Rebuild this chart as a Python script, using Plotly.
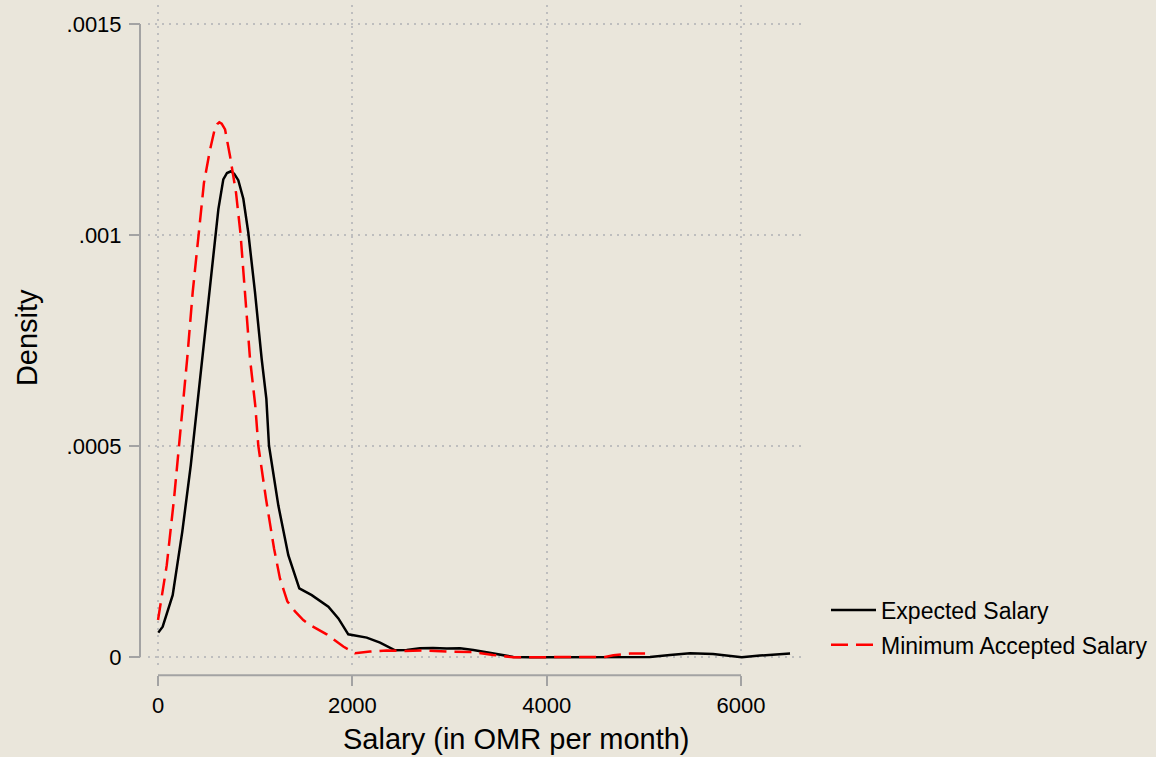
import plotly.graph_objects as go

# Kernel density estimates of monthly salary (OMR)
expected_x = [3, 48, 151, 250, 337, 412, 525, 587, 621, 672, 710, 751, 784, 826, 878,
              929, 998, 1067, 1115, 1142, 1238, 1341, 1454, 1582, 1667, 1753, 1856, 1958,
              2148, 2285, 2439, 2559, 2696, 2830, 2971, 3108, 3245, 3383, 3520, 3657, 3828,
              4549, 5063, 5269, 5475, 5712, 5887, 6007, 6195, 6504]
expected_y = [0.0000583, 0.0000725, 0.0001472, 0.0002977, 0.0004543, 0.0006119, 0.0008646,
              0.0009900, 0.0010610, 0.0011320, 0.0011470, 0.0011510, 0.0011450, 0.0011300,
              0.0010860, 0.0010060, 0.0008646, 0.0007064, 0.0006119, 0.0005015, 0.0003598,
              0.0002417, 0.0001630, 0.0001472, 0.0001330, 0.0001198, 0.0000921, 0.0000543,
              0.0000465, 0.0000347, 0.0000165, 0.0000172, 0.0000213, 0.0000220, 0.0000206,
              0.0000213, 0.0000172, 0.0000111, 0.0000054, 0.0000007, 0.0000000, 0.0000000,
              0.0000007, 0.0000054, 0.0000094, 0.0000078, 0.0000031, 0.0000000, 0.0000040,
              0.0000087]

minimum_x = [0, 90, 165, 219, 264, 300, 357, 415, 473, 535, 587, 610, 631, 655, 690, 741,
             803, 849, 895, 947, 1001, 1032, 1111, 1194, 1255, 1331, 1410, 1495, 1564, 1736,
             1907, 2027, 2182, 2354, 2491, 2730, 2988, 3245, 3448, 3657, 4600, 4686, 4857,
             5012]
minimum_y = [0.0000881, 0.0002180, 0.0003756, 0.0005015, 0.0006119, 0.0007064, 0.0008646,
             0.0010010, 0.0011240, 0.0012020, 0.0012540, 0.0012630, 0.0012670, 0.0012640,
             0.0012500, 0.0011870, 0.0011000, 0.0010030, 0.0008646, 0.0007064, 0.0005960,
             0.0005015, 0.0003756, 0.0002575, 0.0001866, 0.0001323, 0.0001087, 0.0000881,
             0.0000763, 0.0000543, 0.0000253, 0.0000094, 0.0000135, 0.0000158, 0.0000149,
             0.0000158, 0.0000135, 0.0000125, 0.0000054, 0.0000000, 0.0000007, 0.0000047,
             0.0000087, 0.0000087]

x_ticks = [0, 2000, 4000, 6000]
y_ticks = [0, 0.0005, 0.001, 0.0015]
y_tick_text = ["0", ".0005", ".001", ".0015"]

W, H = 1156, 757
BG = "#EAE6DB"
AXIS_GREY = "#A3A3A3"
GRID_GREY = "#BEBEBE"
FONT = "Arial, Liberation Sans, sans-serif"

fig = go.Figure()
fig.add_trace(go.Scatter(x=expected_x, y=expected_y, mode="lines",
                         name="Expected Salary", legendgroup="expected",
                         line=dict(color="black", width=2.5)))
fig.add_trace(go.Scatter(x=minimum_x, y=minimum_y, mode="lines",
                         name="Minimum Accepted Salary", legendgroup="minimum",
                         line=dict(color="#FF0000", width=2.5, dash="17px,8px")))

def px_x(p):
    return p / W

def px_y(p):
    return 1 - p / H

fig.update_layout(
    width=W, height=H,
    margin=dict(l=0, r=0, t=0, b=0),
    paper_bgcolor=BG, plot_bgcolor=BG,
    font=dict(family=FONT, size=22, color="black"),
    showlegend=True,
    legend=dict(x=px_x(826), y=px_y(590), xanchor="left", yanchor="top",
                bgcolor="rgba(0,0,0,0)", font=dict(size=23),
                itemwidth=45, tracegroupgap=2),
    xaxis=dict(domain=[px_x(148), px_x(805)], range=[-103, 6658],
               anchor="free", position=px_y(677),
               tickvals=x_ticks, ticks="outside", ticklen=10, tickwidth=2,
               tickcolor=AXIS_GREY, showline=False, zeroline=False,
               showgrid=True, gridcolor=GRID_GREY, gridwidth=1.5, griddash="2px,5px",
               tickfont=dict(size=22)),
    yaxis=dict(domain=[px_y(670), px_y(5)], range=[-0.000026, 0.0015449],
               anchor="free", position=px_x(140),
               tickvals=y_ticks, ticktext=y_tick_text, ticks="outside", ticklen=11,
               tickwidth=2, tickcolor=AXIS_GREY, showline=False, zeroline=False,
               showgrid=True, gridcolor=GRID_GREY, gridwidth=1.5, griddash="2px,5px",
               tickfont=dict(size=22), ticklabelstandoff=3),
)

# Axis lines spanning the labelled tick range
fig.add_shape(type="line", xref="paper", yref="y", x0=px_x(140), x1=px_x(140),
              y0=y_ticks[0], y1=y_ticks[-1], line=dict(color=AXIS_GREY, width=2))
fig.add_shape(type="line", xref="x", yref="paper", x0=x_ticks[0], x1=x_ticks[-1],
              y0=px_y(677), y1=px_y(677), line=dict(color=AXIS_GREY, width=2))

# Axis titles
fig.add_annotation(text="Salary (in OMR per month)", xref="paper", yref="paper",
                   x=px_x(516), y=px_y(741), xanchor="center", yanchor="middle",
                   showarrow=False, font=dict(size=29))
fig.add_annotation(text="Density", xref="paper", yref="paper",
                   x=px_x(27), y=px_y(339), xanchor="center", yanchor="middle",
                   textangle=-90, showarrow=False, font=dict(size=29))

fig.write_html("out.html")
